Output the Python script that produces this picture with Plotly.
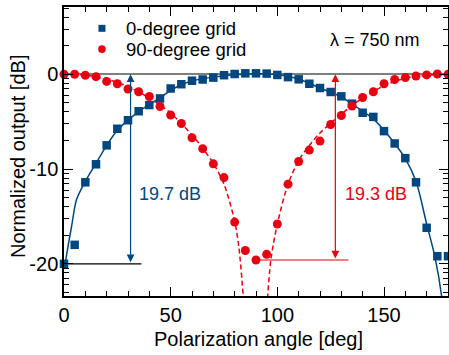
import plotly.graph_objects as go

# ---- data ----
angles = [0, 5, 10, 15, 20, 25, 30, 35, 40, 45, 50, 55, 60, 65, 70, 75, 80, 85, 90,
          95, 100, 105, 110, 115, 120, 125, 130, 135, 140, 145, 150, 155, 160, 165, 170, 175, 180]

grid0_db = [-20.0, -18.0, -11.4, -9.5, -7.5, -5.75, -4.85, -3.9, -3.25, -2.55, -1.5, -1.05, -0.68,
            -0.55, -0.35, -0.1, 0.03, 0.1, 0.1, 0.07, -0.07, -0.3, -0.53, -1.0, -1.45, -1.87, -2.33,
            -3.1, -4.06, -4.5, -6.0, -7.3, -8.85, -11.4, -16.2, -19.2, -19.2]

grid90_db = [0.0, 0.0, -0.1, -0.25, -0.75, -1.0, -1.55, -1.85, -2.35, -3.4, -4.3, -5.2, -6.7,
             -7.85, -9.45, -10.9, -15.6, -18.6, -19.6, -19.0, -15.8, -11.6, -9.2, -8.0, -7.05,
             -5.3, -4.35, -3.35, -2.45, -1.85, -1.0, -0.55, -0.35, -0.18, -0.07, 0.03, 0.0]

# fitted curves
fit0_x = [0.3, 2, 3.6, 5.9, 10, 15, 20, 25, 30, 35, 40, 45, 50, 55, 60, 70, 80, 90, 100,
          110, 120, 130, 140, 145, 150, 155, 160, 165, 170, 173.8, 177, 178]
fit0_y = [-20.3, -18.0, -16.0, -13.2, -11.3, -9.4, -7.5, -5.9, -4.85, -3.95, -3.2, -2.5, -1.7,
          -1.1, -0.7, -0.3, -0.05, 0.05, -0.05, -0.5, -1.45, -2.4, -3.9, -4.7, -5.9, -7.3,
          -8.9, -11.3, -15.8, -19.2, -23.4, -26.0]

fit90a_x = [0, 10, 20, 30, 40, 50, 60, 65, 70, 75, 80, 82, 84, 85]
fit90a_y = [0, -0.1, -0.5, -1.3, -2.5, -4.1, -6.4, -7.8, -9.4, -11.6, -15.5, -18.3, -23.4, -27]
fit90b_x = [94.5, 95.5, 97, 100, 105, 110, 115, 120, 130, 140, 150, 160, 170, 180]
fit90b_y = [-27, -23.4, -19.5, -15.8, -11.6, -9.1, -7.5, -6.2, -4.2, -2.5, -1.2, -0.4, -0.1, 0]

x_tickvals = [0, 50, 100, 150]
x_ticktext = ["0", "50", "100", "150"]
x_minor = [10, 20, 30, 40, 60, 70, 80, 90, 110, 120, 130, 140, 160, 170]
y_tickvals = [-20, -10, 0]
y_ticktext = ["-20", "-10", "0"]
y_minor = [6.990, 6.021, 4.771, 3.010,
           -0.458, -0.969, -1.549, -2.218, -3.010, -3.979, -5.229, -6.990,
           -10.458, -10.969, -11.549, -12.218, -13.010, -13.979, -15.229, -16.990,
           -20.458, -20.969, -21.549, -22.218, -23.010]

BLUE = "#00467f"
RED = "#e60012"
FONT = "Liberation Sans, Arial, sans-serif"

fig = go.Figure()

fig.add_trace(go.Scatter(x=fit0_x, y=fit0_y, mode="lines", line=dict(color=BLUE, width=1.5, shape="spline", smoothing=0.8),
                         showlegend=False, hoverinfo="skip"))
fig.add_trace(go.Scatter(x=fit90a_x, y=fit90a_y, mode="lines",
                         line=dict(color=RED, width=1.5, dash="5px,3px", shape="spline", smoothing=0.8),
                         showlegend=False, hoverinfo="skip"))
fig.add_trace(go.Scatter(x=fit90b_x, y=fit90b_y, mode="lines",
                         line=dict(color=RED, width=1.5, dash="5px,3px", shape="spline", smoothing=0.8),
                         showlegend=False, hoverinfo="skip"))
fig.add_trace(go.Scatter(x=angles, y=grid0_db, mode="markers", name="0-degree grid",
                         marker=dict(symbol="square", size=8.5, color=BLUE), cliponaxis=False, showlegend=False))
fig.add_trace(go.Scatter(x=angles, y=grid90_db, mode="markers", name="90-degree grid",
                         marker=dict(symbol="circle", size=9, color=RED), cliponaxis=False, showlegend=False))

blue_min = grid0_db[0]
red_min = min(grid90_db)
red_min_x = angles[grid90_db.index(red_min)]

shapes = [
    dict(type="line", xref="x", yref="y", x0=0, x1=36.3, y0=blue_min, y1=blue_min,
         line=dict(color="black", width=1.2), layer="below"),
    dict(type="line", xref="x", yref="y", x0=red_min_x, x1=133.3, y0=red_min, y1=red_min,
         line=dict(color=RED, width=1.2), layer="below"),
    # legend keys
    dict(type="rect", xref="x", yref="y", xsizemode="pixel", ysizemode="pixel",
         xanchor=17.8, yanchor=4.85, x0=-3.5, x1=3.5, y0=-3.5, y1=3.5,
         fillcolor=BLUE, line=dict(width=0)),
    dict(type="circle", xref="x", yref="y", xsizemode="pixel", ysizemode="pixel",
         xanchor=17.8, yanchor=2.65, x0=-3.8, x1=3.8, y0=-3.8, y1=3.8,
         fillcolor=RED, line=dict(width=0)),
]

annotations = [
    dict(x=31.2, y=0, ax=31.2, ay=blue_min, xref="x", yref="y", axref="x", ayref="y",
         text="", showarrow=True, arrowside="end+start", arrowhead=2, arrowsize=1.3,
         arrowwidth=1.2, arrowcolor=BLUE, standoff=0, startstandoff=0),
    dict(x=127.2, y=0, ax=127.2, ay=red_min, xref="x", yref="y", axref="x", ayref="y",
         text="", showarrow=True, arrowside="end+start", arrowhead=2, arrowsize=1.3,
         arrowwidth=1.2, arrowcolor=RED, standoff=0, startstandoff=0),
    dict(x=49.7, y=-12.6, xref="x", yref="y", text="19.7 dB", showarrow=False,
         font=dict(size=18, color=BLUE, family=FONT)),
    dict(x=146.3, y=-12.6, xref="x", yref="y", text="19.3 dB", showarrow=False,
         font=dict(size=18, color=RED, family=FONT)),
    dict(x=145.8, y=3.65, xref="x", yref="y", text="λ = 750 nm", showarrow=False,
         font=dict(size=18, color="black", family=FONT)),
    dict(x=28.1, y=4.8, xref="x", yref="y", text="0-degree grid", showarrow=False, xanchor="left",
         font=dict(size=18.5, color="black", family=FONT)),
    dict(x=28.1, y=2.6, xref="x", yref="y", text="90-degree grid", showarrow=False, xanchor="left",
         font=dict(size=18.5, color="black", family=FONT)),
    # axis titles
    dict(x=(258 - 64) / 384, y=-(339 - 296) / 289, xref="paper", yref="paper",
         text="Polarization angle [deg]", showarrow=False, xanchor="center", yanchor="middle",
         font=dict(size=20, color="black", family=FONT)),
    dict(x=-(64 - 18) / 384, y=(296 - 157) / 289, xref="paper", yref="paper",
         text="Normalized output [dB]", showarrow=False, textangle=-90, xanchor="center", yanchor="middle",
         font=dict(size=20, color="black", family=FONT)),
]

fig.update_layout(
    width=449, height=355,
    margin=dict(l=64, r=1, t=7, b=59, autoexpand=False),
    paper_bgcolor="white", plot_bgcolor="white",
    font=dict(family=FONT, size=20, color="black"),
    shapes=shapes, annotations=annotations,
    showlegend=False,
)

fig.update_xaxes(
    range=[0, 180], showgrid=False, zeroline=False, automargin=False,
    showline=True, linecolor="black", linewidth=1.5, mirror="allticks",
    ticks="inside", ticklen=9, tickwidth=1.2, tickcolor="black",
    tickmode="array", tickvals=x_tickvals, ticktext=x_ticktext,
    minor=dict(tickmode="array", tickvals=x_minor, ticks="inside", ticklen=5, tickwidth=1.2, tickcolor="black"),
    tickfont=dict(size=20),
)
fig.update_yaxes(
    range=[-23.4, 7.1], showgrid=False, automargin=False,
    zeroline=True, zerolinecolor="#7f7f7f", zerolinewidth=2,
    showline=True, linecolor="black", linewidth=1.5, mirror="allticks",
    ticks="inside", ticklen=9, tickwidth=1.2, tickcolor="black",
    tickmode="array", tickvals=y_tickvals, ticktext=y_ticktext,
    minor=dict(tickmode="array", tickvals=y_minor, ticks="inside", ticklen=5, tickwidth=1.2, tickcolor="black"),
    tickfont=dict(size=20),
)

fig.write_html("out.html", config={"displayModeBar": False},
               post_script="document.body.style.margin='0px';")
